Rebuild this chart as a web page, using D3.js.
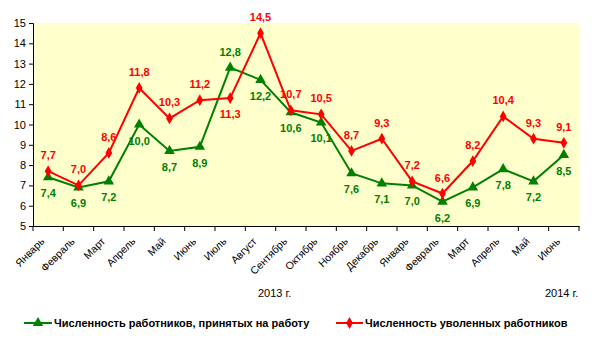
<!DOCTYPE html>
<html><head><meta charset="utf-8">
<script src="https://cdn.jsdelivr.net/npm/d3@7/dist/d3.min.js"></script>
<style>body{margin:0;background:#fff}svg{display:block}text{font-family:Arial,"Liberation Sans",sans-serif}</style>
</head><body>
<svg id="c" width="600" height="338"></svg>
<script>
const months = ["Январь","Февраль","Март","Апрель","Май","Июнь","Июль","Август","Сентябрь","Октябрь","Ноябрь","Декабрь","Январь","Февраль","Март","Апрель","Май","Июнь"];
const hired = [7.4,6.9,7.2,10.0,8.7,8.9,12.8,12.2,10.6,10.1,7.6,7.1,7.0,6.2,6.9,7.8,7.2,8.5];
const fired = [7.7,7.0,8.6,11.8,10.3,11.2,11.3,14.5,10.7,10.5,8.7,9.3,7.2,6.6,8.2,10.4,9.3,9.1];
const hiredLabelAbove = [0,0,0,0,0,0,1,0,0,0,0,0,0,0,0,0,0,0];
const firedLabelAbove = [1,1,1,1,1,1,0,1,1,1,1,1,1,1,1,1,1,1];
const yTicks = [5,6,7,8,9,10,11,12,13,14,15];
const years = ["2013 г.","2014 г."];
const seriesNames = ["Численность работников, принятых на работу","Численность уволенных работников"];

const svg = d3.select("#c");
const L=33,R=579,T=23,B=226;
const idx = d3.range(months.length);
const x = d3.scaleBand().domain(idx).range([L,R]);
const y = d3.scaleLinear().domain([5,15]).range([B,T]);
const cx = i => x(i)+x.bandwidth()/2;

svg.append("rect").attr("x",L).attr("y",T).attr("width",R-L).attr("height",B-T).attr("fill","#FFFFCC");

// y axis
const ya = svg.append("g").attr("transform",`translate(${L},0)`)
  .call(d3.axisLeft(y).tickValues(yTicks).tickSize(4).tickPadding(3).tickFormat(d3.format("d")));
ya.select(".domain").attr("stroke","#000");
ya.selectAll("text").attr("font-size",11).attr("fill","#000");
// x axis
const xa = svg.append("g").attr("transform",`translate(0,${B})`)
  .call(d3.axisBottom(x).tickSize(0).tickFormat(""));
xa.select(".domain").attr("stroke","#000");
svg.append("g").selectAll("line").data(d3.range(months.length+1)).join("line")
  .attr("x1",i=>L+i*x.step()).attr("x2",i=>L+i*x.step()).attr("y1",B).attr("y2",B+5).attr("stroke","#000");
svg.append("g").selectAll("text").data(idx).join("text")
  .attr("transform",i=>`translate(${cx(i)-3},${B+16}) rotate(-45)`)
  .attr("text-anchor","end").attr("font-size",10.5).attr("fill","#000").text(i=>months[i]);

const lineGen = d3.line().x((d,i)=>cx(i)).y(d=>y(d));
const green="#008000", red="#FF0000";
const tri = d3.symbol().type(d3.symbolTriangle).size(48);
const dia = d3.symbol().type(d3.symbolDiamond).size(40);

function series(data, col, sym, above){
  const g=svg.append("g");
  g.append("path").datum(data).attr("d",lineGen).attr("fill","none").attr("stroke",col).attr("stroke-width",2);
  g.selectAll("path.m").data(data).join("path").attr("class","m")
    .attr("d",sym).attr("fill",col).attr("transform",(d,i)=>`translate(${cx(i)},${y(d)})`);
  g.selectAll("text").data(data).join("text")
    .attr("x",(d,i)=>cx(i)).attr("y",(d,i)=>y(d)+(above[i]?-12:20))
    .attr("text-anchor","middle").attr("font-size",11).attr("font-weight","bold").attr("fill",col)
    .text(d=>d3.format(".1f")(d).replace(".",","));
}
series(hired, green, tri, hiredLabelAbove);
series(fired, red, dia, firedLabelAbove);

// years
svg.append("text").attr("x",258).attr("y",297).attr("font-size",11).text(years[0]);
svg.append("text").attr("x",545).attr("y",297).attr("font-size",11).text(years[1]);

// legend
const leg=[{x1:24,x2:52,col:green,sym:tri,tx:54,name:seriesNames[0]},{x1:336,x2:363,col:red,sym:dia,tx:365,name:seriesNames[1]}];
leg.forEach(l=>{
  svg.append("line").attr("x1",l.x1).attr("x2",l.x2).attr("y1",323).attr("y2",323).attr("stroke",l.col).attr("stroke-width",2);
  svg.append("path").attr("d",l.sym).attr("fill",l.col).attr("transform",`translate(${(l.x1+l.x2)/2},323)`);
  svg.append("text").attr("x",l.tx).attr("y",327).attr("font-size",11).attr("font-weight","bold").text(l.name);
});
</script>
</body></html>
